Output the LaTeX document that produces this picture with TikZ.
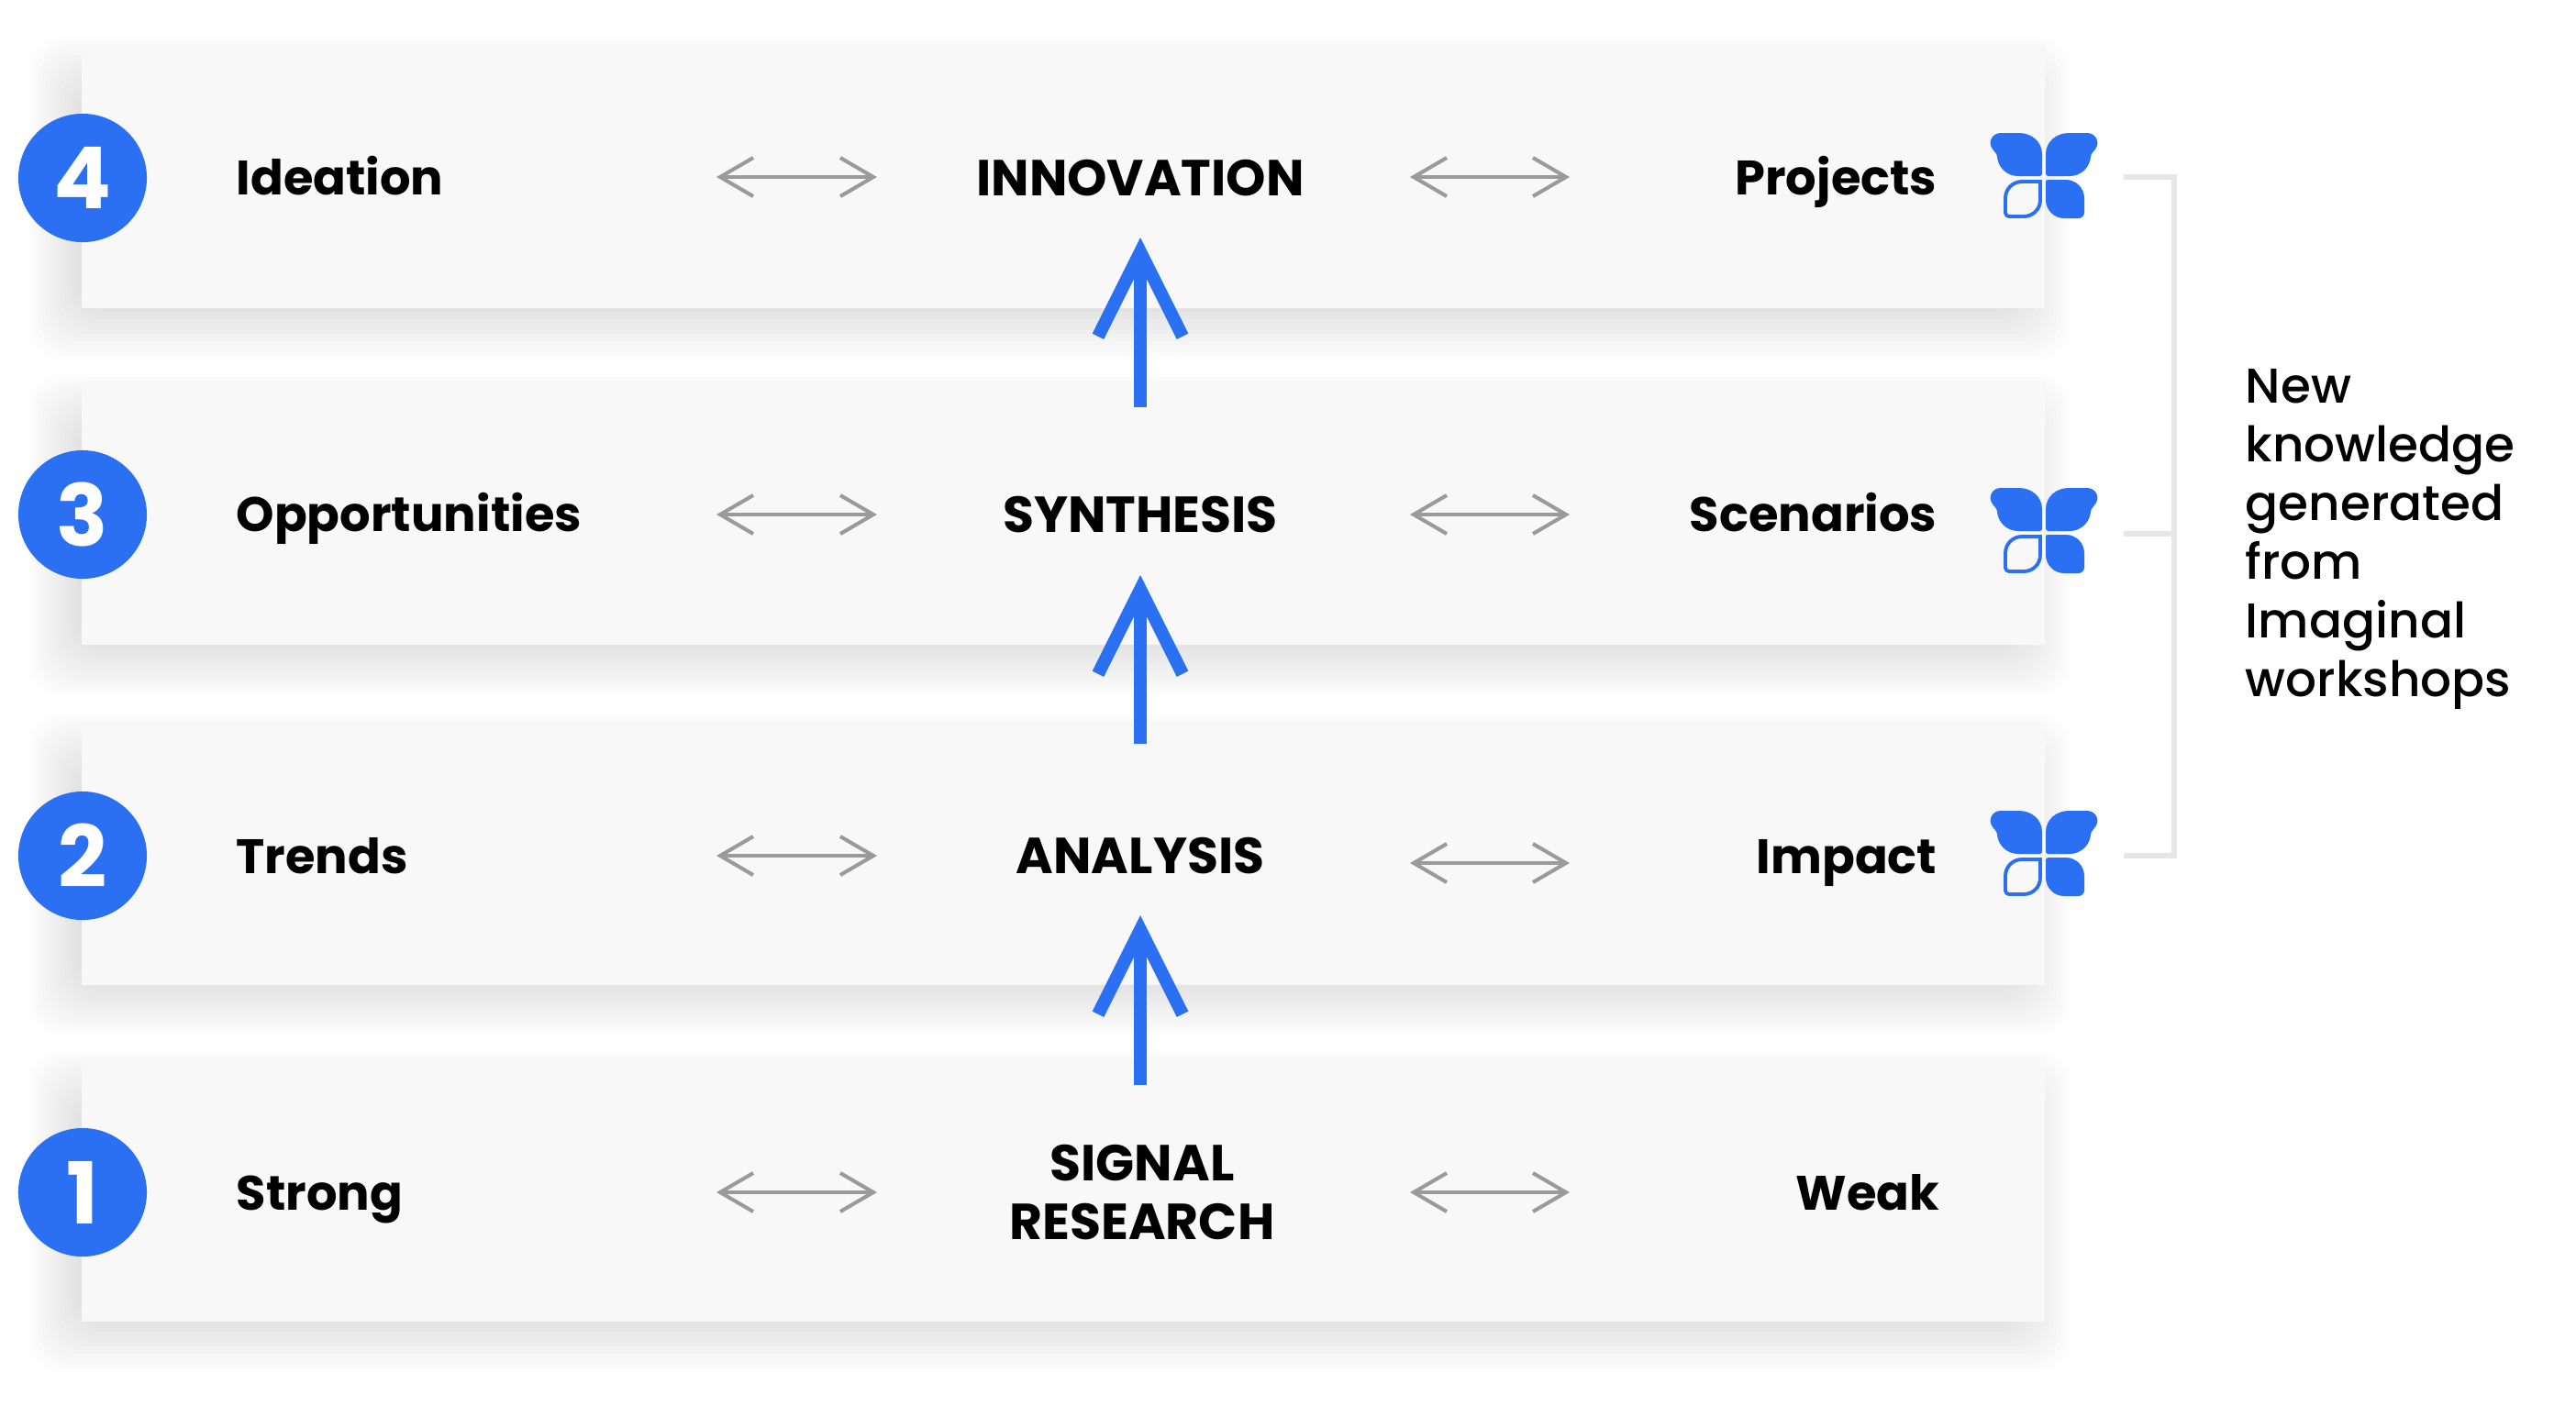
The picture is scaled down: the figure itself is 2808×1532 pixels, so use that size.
\documentclass[tikz,border=0pt]{standalone}
\usepackage{fontspec}
\setmainfont{Poppins}
\newfontfamily\notefont{Poppins Medium}
\usetikzlibrary{arrows.meta,positioning,calc}
\definecolor{imablue}{HTML}{2B70F2}
\definecolor{imapanel}{HTML}{F8F8F8}
\definecolor{imagray}{HTML}{9A9A9A}
\definecolor{imabracket}{HTML}{E6E6E6}
\newcommand{\rowshadow}[2]{%
\foreach \d in {-40,-36,...,40}{
\fill[black,opacity=0.0068,rounded corners=0.35cm] (70+\d,#1+\d) rectangle (2218-\d,#2-\d);
}}
\begin{document}
\begin{tikzpicture}[x=0.01cm, y=-0.01cm]
\tikzstyle{panel}=[fill=imapanel,draw=none,minimum width=21.38cm,minimum height=2.87cm,inner sep=0pt]
\tikzstyle{badge}=[circle,fill=imablue,text=white,minimum size=1.4cm,inner sep=0pt,font=\fontsize{26.5}{28}\selectfont\bfseries]
\tikzstyle{lefttext}=[anchor=west,inner sep=0pt,text height=0.5cm,text depth=0.12cm,font=\fontsize{15}{18}\selectfont\bfseries]
\tikzstyle{righttext}=[anchor=east,inner sep=0pt,text height=0.5cm,text depth=0.12cm,font=\fontsize{15}{18}\selectfont\bfseries]
\tikzstyle{midtext}=[align=center,inner sep=0pt,font=\fontsize{15.7}{18.2}\selectfont\bfseries]
\tikzstyle{swap}=[draw=imagray,line width=1.15pt,{Straight Barb[length=0.36cm,width=0.42cm]}-{Straight Barb[length=0.36cm,width=0.42cm]}]
\tikzstyle{rise}=[draw=imablue,line width=4pt,-{Straight Barb[length=0.92cm,width=0.92cm]}]
\tikzstyle{bracket}=[draw=imabracket,line width=1.7pt]
\tikzset{butterfly/.pic={
\fill[imablue] (-2,-4) -- (-2,-26) .. controls (-2,-40) and (-14,-49) .. (-27,-49) -- (-47,-49) .. controls (-56,-49) and (-61,-40) .. (-57,-33) .. controls (-55,-29) and (-51,-27) .. (-51,-23) .. controls (-50,-11) and (-40,-2) .. (-28,-2) -- (-4,-2) -- cycle;
\fill[imablue] (2,-4) -- (2,-26) .. controls (2,-40) and (14,-49) .. (27,-49) -- (47,-49) .. controls (56,-49) and (61,-40) .. (57,-33) .. controls (55,-29) and (51,-27) .. (51,-23) .. controls (50,-11) and (40,-2) .. (28,-2) -- (4,-2) -- cycle;
\fill[imablue] (2,4) .. controls (2,3) and (3,2) .. (4,2) -- (24,2) .. controls (35,2) and (44,11) .. (44,22) -- (44,38) .. controls (44,41) and (41,44) .. (38,44) -- (22,44) .. controls (11,44) and (2,35) .. (2,24) -- cycle;
\draw[imablue,line width=1.1pt] (-4,4) -- (-24,4) .. controls (-34,4) and (-42,12) .. (-42,22) -- (-42,38) .. controls (-42,40) and (-40,42) .. (-38,42) -- (-22,42) .. controls (-12,42) and (-4,34) .. (-4,24) -- cycle;
}}

\useasboundingbox (0,0) rectangle (2808,1532);

\rowshadow{80}{352}
\rowshadow{447}{719}
\rowshadow{818}{1089}
\rowshadow{1185}{1456}

\node[panel]    (P4) at (1159,192)     {};
\node[panel]    (P3) at (1159,559)     {};
\node[panel]    (P2) at (1159,930.5)   {};
\node[panel]    (P1) at (1159,1297.5)  {};

\node[badge]    (B4) at (90,194)   {4};
\node[badge]    (B3) at (90,561)   {3};
\node[badge]    (B2) at (90,933)   {2};
\node[badge]    (B1) at (90,1300)  {1};

\node[lefttext]    (L4) at (257,193)   {Ideation};
\node[lefttext]    (L3) at (257,560)   {Opportunities};
\node[lefttext]    (L2) at (257,933)   {Trends};
\node[lefttext]    (L1) at (257,1300)  {Strong};

\node[midtext]    (M4) at (1243,194)   {INNOVATION};
\node[midtext]    (M3) at (1243,561)   {SYNTHESIS};
\node[midtext]    (M2) at (1243,933)   {ANALYSIS};
\node[midtext]    (M1) at (1245,1300)  {SIGNAL\\RESEARCH};

\node[righttext]    (R4) at (2112,193)   {Projects};
\node[righttext]    (R3) at (2112,560)   {Scenarios};
\node[righttext]    (R2) at (2112,933)   {Impact};
\node[righttext]    (R1) at (2115,1300)  {Weak};

\coordinate (A4) at (781,193);   \coordinate (C4) at (956,193);
\coordinate (A3) at (781,561);   \coordinate (C3) at (956,561);
\coordinate (A2) at (781,933);   \coordinate (C2) at (956,933);
\coordinate (A1) at (781,1300);  \coordinate (C1) at (956,1300);
\coordinate (D4) at (1537,193);  \coordinate (E4) at (1711,193);
\coordinate (D3) at (1537,561);  \coordinate (E3) at (1711,561);
\coordinate (D2) at (1537,941);  \coordinate (E2) at (1711,941);
\coordinate (D1) at (1537,1300); \coordinate (E1) at (1711,1300);

\path
(A4) edge[swap]     (C4)
(D4) edge[swap]     (E4)
(A3) edge[swap]     (C3)
(D3) edge[swap]     (E3)
(A2) edge[swap]     (C2)
(D2) edge[swap]     (E2)
(A1) edge[swap]     (C1)
(D1) edge[swap]     (E1);

\coordinate (U3) at (1243,444);   \coordinate (V3) at (1243,259);
\coordinate (U2) at (1243,811);   \coordinate (V2) at (1243,627);
\coordinate (U1) at (1243,1183);  \coordinate (V1) at (1243,998);

\path
(U3) edge[rise]     (V3)
(U2) edge[rise]     (V2)
(U1) edge[rise]     (V1);

\pic (F4) at (2228,194) {butterfly};
\pic (F3) at (2228,581) {butterfly};
\pic (F2) at (2228,933) {butterfly};

\coordinate (K4) at (2315,193);
\coordinate (K3) at (2315,582);
\coordinate (K2) at (2315,933);
\coordinate (T4) at (2370,193);
\coordinate (T3) at (2370,582);
\coordinate (T2) at (2370,933);

\draw[bracket] (K4) -- (T4) -- (T2) -- (K2);
\draw[bracket] (K3) -- (T3);

\node[anchor=west,align=left,inner sep=0pt,font=\fontsize{15.15}{18.2}\selectfont\notefont] (N1) at (2447,588) {New\\knowledge\\generated\\from\\Imaginal\\workshops};
\end{tikzpicture}
\end{document}
